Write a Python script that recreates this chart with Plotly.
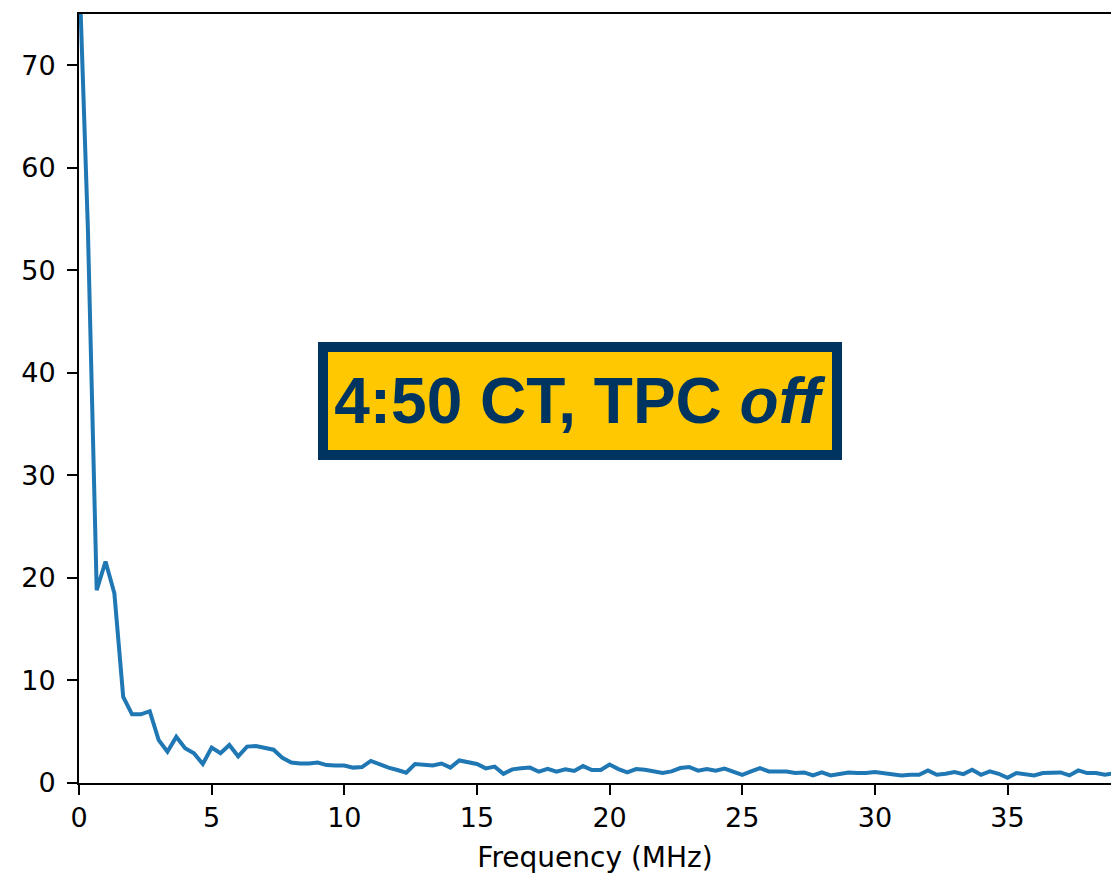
import numpy as np
import plotly.graph_objects as go

# Frequency bins (MHz), spacing 1/3 MHz
bin_index = list(range(118))
freq_step_mhz = 1.0 / 3.0

amplitude = [
    80.0, 54.2, 18.8, 21.6, 18.5, 8.4, 6.7, 6.7, 7.0, 4.2,
    3.05, 4.5, 3.4, 2.9, 1.85, 3.45, 2.9, 3.7, 2.6, 3.55,
    3.6, 3.45, 3.25, 2.45, 2.0, 1.9, 1.9, 2.0, 1.75, 1.7,
    1.7, 1.5, 1.55, 2.15, 1.8, 1.5, 1.27, 1.0, 1.85, 1.75,
    1.7, 1.9, 1.5, 2.2, 2.0, 1.85, 1.43, 1.6, 0.9, 1.33,
    1.43, 1.5, 1.1, 1.37, 1.1, 1.33, 1.17, 1.65, 1.27, 1.27,
    1.8, 1.36, 1.03, 1.36, 1.3, 1.13, 0.97, 1.13, 1.46, 1.56,
    1.2, 1.36, 1.2, 1.4, 1.13, 0.8, 1.13, 1.46, 1.13, 1.13,
    1.13, 0.97, 1.03, 0.74, 1.03, 0.74, 0.9, 1.03, 0.97, 0.97,
    1.07, 0.97, 0.9, 0.74, 0.8, 0.8, 1.23, 0.8, 0.9, 1.07,
    0.87, 1.3, 0.8, 1.13, 0.9, 0.5, 0.97, 0.87, 0.74, 0.97,
    1.03, 1.03, 0.74, 1.23, 0.97, 0.97, 0.8, 0.95,
]

frequency = [k * freq_step_mhz for k in bin_index]

x_ticks = [0, 5, 10, 15, 20, 25, 30, 35]
y_ticks = [0, 10, 20, 30, 40, 50, 60, 70]
x_title = "Frequency (MHz)"
label_text = "<b>4:50 CT, TPC <i>off</i></b>"

fig = go.Figure()
fig.add_trace(go.Scatter(
    x=frequency, y=amplitude, mode="lines",
    line=dict(color="#1f77b4", width=4),
    hoverinfo="skip", showlegend=False,
))

axis_font = dict(family="DejaVu Sans", size=27, color="black")

fig.update_layout(
    width=1111, height=874,
    margin=dict(l=79, r=0, t=14, b=91),
    paper_bgcolor="white", plot_bgcolor="white",
    xaxis=dict(
        range=[0, 38.9], tickvals=x_ticks, ticktext=[str(v) for v in x_ticks],
        showgrid=False, zeroline=False, showline=True, linecolor="black",
        linewidth=2, mirror=True, ticks="outside", ticklen=10, tickwidth=2,
        tickcolor="black", tickfont=axis_font, automargin=False,
        title=dict(text=x_title, font=dict(family="DejaVu Sans", size=28, color="black"), standoff=16),
    ),
    yaxis=dict(
        range=[0, 75], tickvals=y_ticks, ticktext=[str(v) for v in y_ticks],
        showgrid=False, zeroline=False, showline=True, linecolor="black",
        linewidth=2, mirror=False, ticks="outside", ticklen=10, tickwidth=2,
        tickcolor="black", tickfont=axis_font, automargin=False,
        ticklabelstandoff=6,
    ),
    annotations=[dict(
        x=18.87, y=37.3, xref="x", yref="y", text=label_text,
        showarrow=False, xanchor="center", yanchor="middle",
        width=500, height=94,
        font=dict(family="Liberation Sans", size=64, color="#003460"),
        bgcolor="#FFC800", bordercolor="#003460", borderwidth=10, borderpad=2,
    )],
)

fig.write_html(
    "out.html",
    config={"displayModeBar": False},
    post_script="document.body.style.margin='0';document.body.style.overflow='hidden';",
)
